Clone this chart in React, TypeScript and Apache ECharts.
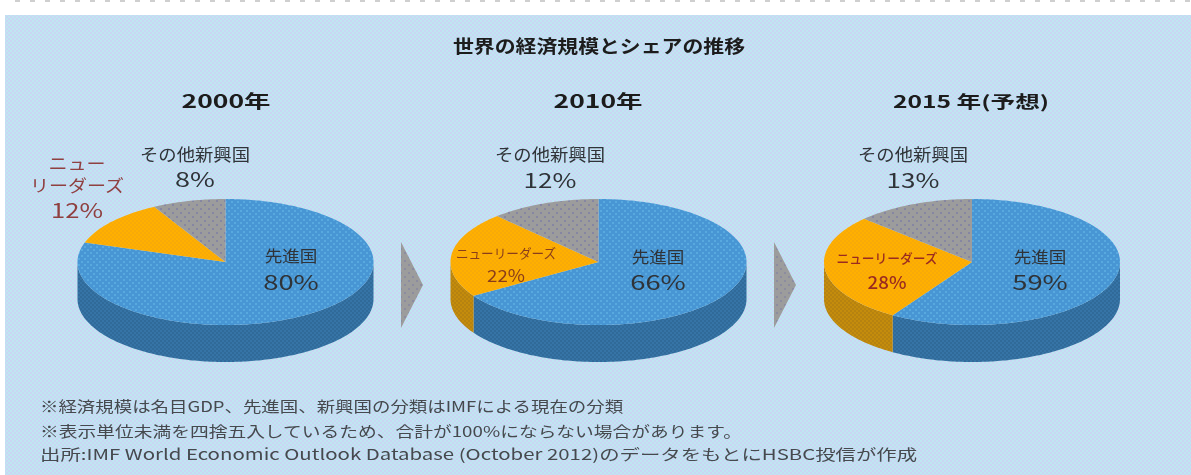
import React, { useEffect, useRef } from "react";
import * as echarts from "echarts";

const chartTitle = "世界の経済規模とシェアの推移";
const years = ["2000年", "2010年", "2015 年(予想)"];
const segmentNames = ["先進国", "ニューリーダーズ", "その他新興国"];
const shares2000 = [80, 12, 8];
const shares2010 = [66, 22, 12];
const shares2015 = [59, 28, 13];
const footnotes = [
  "※経済規模は名目GDP、先進国、新興国の分類はIMFによる現在の分類",
  "※表示単位未満を四捨五入しているため、合計が100%にならない場合があります。",
  "出所:IMF World Economic Outlook Database (October 2012)のデータをもとにHSBC投信が作成",
];

const allShares = [shares2000, shares2010, shares2015];
const FONT = '"Noto Sans CJK JP", "Noto Sans", sans-serif';

const pies = [
  { cx: 225.5, cy: 262 },
  { cx: 598.5, cy: 262 },
  { cx: 972, cy: 262 },
];
const RX = 148;
const RY = 63;
const DEPTH = 37;

function pattern(base: string, dot: string, period: number, size = 1) {
  const c = document.createElement("canvas");
  c.width = period;
  c.height = period;
  const g = c.getContext("2d")!;
  g.fillStyle = base;
  g.fillRect(0, 0, period, period);
  g.fillStyle = dot;
  g.fillRect(0, 0, size, size);
  g.fillRect(period / 2, period / 2, size, size);
  return { image: c, repeat: "repeat" } as any;
}

function point(p: { cx: number; cy: number }, deg: number, dy = 0) {
  const t = (deg * Math.PI) / 180;
  return [p.cx + RX * Math.sin(t), p.cy - RY * Math.cos(t) + dy];
}

export default function App() {
  const ref = useRef<HTMLDivElement>(null);

  useEffect(() => {
    document.body.style.margin = "0";
    document.body.style.background = "#fff";
    const chart = echarts.init(ref.current!, undefined, { renderer: "svg" });

    const fills = [
      { top: pattern("#4896d4", "#58a9df", 6, 2), side: pattern("#3674a6", "#306a99", 4, 2) },
      { top: pattern("#ffb000", "#f8aa08", 4, 2), side: pattern("#c48c0c", "#b68210", 4, 2) },
      { top: pattern("#9c9c9c", "#8686a2", 8, 2), side: pattern("#8a8a8a", "#777", 4, 2) },
    ];

    const series = allShares.map((shares, pieIndex) => ({
      type: "custom",
      coordinateSystem: "none",
      silent: true,
      data: shares.map((v) => [v]),
      renderItem: (params: any, api: any) => {
        const i = params.dataIndex;
        const p = pies[pieIndex];
        const before = shares.slice(0, i).reduce((a, b) => a + b, 0);
        const total = shares.reduce((a, b) => a + b, 0);
        const start = (before / total) * 360;
        const end = ((before + api.value(0)) / total) * 360;

        const topPts: number[][] = [[p.cx, p.cy]];
        for (let d = start; d < end; d += 1) topPts.push(point(p, d));
        topPts.push(point(p, end));

        const children: any[] = [];
        const a = Math.max(start, 90);
        const b = Math.min(end, 270);
        if (b > a) {
          const upper: number[][] = [];
          const lower: number[][] = [];
          for (let d = a; d < b; d += 1) {
            upper.push(point(p, d));
            lower.push(point(p, d, DEPTH));
          }
          upper.push(point(p, b));
          lower.push(point(p, b, DEPTH));
          children.push({
            type: "polygon",
            shape: { points: upper.concat(lower.reverse()) },
            style: { fill: fills[i].side, stroke: "none" },
          });
        }
        children.push({
          type: "polygon",
          shape: { points: topPts },
          style: { fill: fills[i].top, stroke: "none" },
        });
        return { type: "group", children };
      },
    }));

    const text = (
      t: string,
      x: number,
      y: number,
      size: number,
      color: string,
      scaleX = 1,
      weight: string | number = 400,
      align = "center"
    ) => ({
      type: "text",
      x,
      y: y - 1.5,
      scaleX,
      z: 10,
      silent: true,
      style: {
        text: t,
        fontFamily: FONT,
        fontSize: size,
        fontWeight: weight,
        fill: color,
        align,
        verticalAlign: "middle",
      },
    });

    const dark = "#2f3338";
    const arrowFill = pattern("#9c9c9c", "#8c8ca0", 8, 2);
    const graphic = [
      { type: "rect", z: 0, silent: true, shape: { x: 5, y: 15, width: 1186, height: 460 }, style: { fill: pattern("#c9d6f3", "#bfe6f1", 4, 2) } },
      {
        type: "line",
        z: 0,
        silent: true,
        shape: { x1: 15, y1: 1, x2: 1191, y2: 1 },
        style: { stroke: "#cfcfcf", lineWidth: 2, lineDash: [5, 10] },
      },
      {
        type: "polygon",
        z: 1,
        silent: true,
        shape: { points: [[401, 242], [423, 285], [401, 328]] },
        style: { fill: arrowFill },
      },
      {
        type: "polygon",
        z: 1,
        silent: true,
        shape: { points: [[774, 242], [796, 285], [774, 328]] },
        style: { fill: arrowFill },
      },
      text(chartTitle, 599, 47, 18, "#1c1c1c", 1.16, 700),
      text(years[0], 226, 102, 18, "#1c1c1c", 1.47, 700),
      text(years[1], 598, 102, 18, "#1c1c1c", 1.47, 700),
      text(years[2], 971, 102, 17, "#1c1c1c", 1.45, 700),

      text(segmentNames[2], 195, 155, 17, dark, 1.08),
      text(`${shares2000[2]}%`, 195, 180, 20, dark, 1.35),
      text("ニュー", 77, 164, 17, "#8f4040", 1.12),
      text("リーダーズ", 77, 186, 17, "#8f4040", 1.12),
      text(`${shares2000[1]}%`, 77, 211, 20, "#8f4040", 1.28),
      text(segmentNames[0], 291, 257, 16, dark, 1.1),
      text(`${shares2000[0]}%`, 291, 283, 20, dark, 1.37),

      text(segmentNames[2], 550, 155, 17, dark, 1.08),
      text(`${shares2010[2]}%`, 550, 181, 20, dark, 1.3),
      text(segmentNames[1], 506, 254, 13, "#8a3d1a", 0.97),
      text(`${shares2010[1]}%`, 506, 276, 17, "#8a3d1a", 1.1),
      text(segmentNames[0], 658, 258, 16, dark, 1.1),
      text(`${shares2010[0]}%`, 658, 283, 20, dark, 1.37),

      text(segmentNames[2], 913, 155, 17, dark, 1.08),
      text(`${shares2015[2]}%`, 913, 181, 20, dark, 1.3),
      text(segmentNames[1], 887, 259, 13, "#9a2a20", 0.98, 500),
      text(`${shares2015[1]}%`, 887, 283, 17, "#9a2a20", 1.1, 500),
      text(segmentNames[0], 1040, 258, 16, dark, 1.1),
      text(`${shares2015[0]}%`, 1040, 283, 20, dark, 1.37),

      text(footnotes[0], 40, 407.5, 15, "#45494e", 1.23, 400, "left"),
      text(footnotes[1], 40, 432, 15, "#45494e", 1.25, 400, "left"),
      text(footnotes[2], 40, 455, 15, "#45494e", 1.36, 400, "left"),
    ];

    chart.setOption({ animation: false, series, graphic });
    return () => chart.dispose();
  }, []);

  return <div ref={ref} style={{ position: "fixed", left: 0, top: 0, width: 1191, height: 475 }} />;
}
